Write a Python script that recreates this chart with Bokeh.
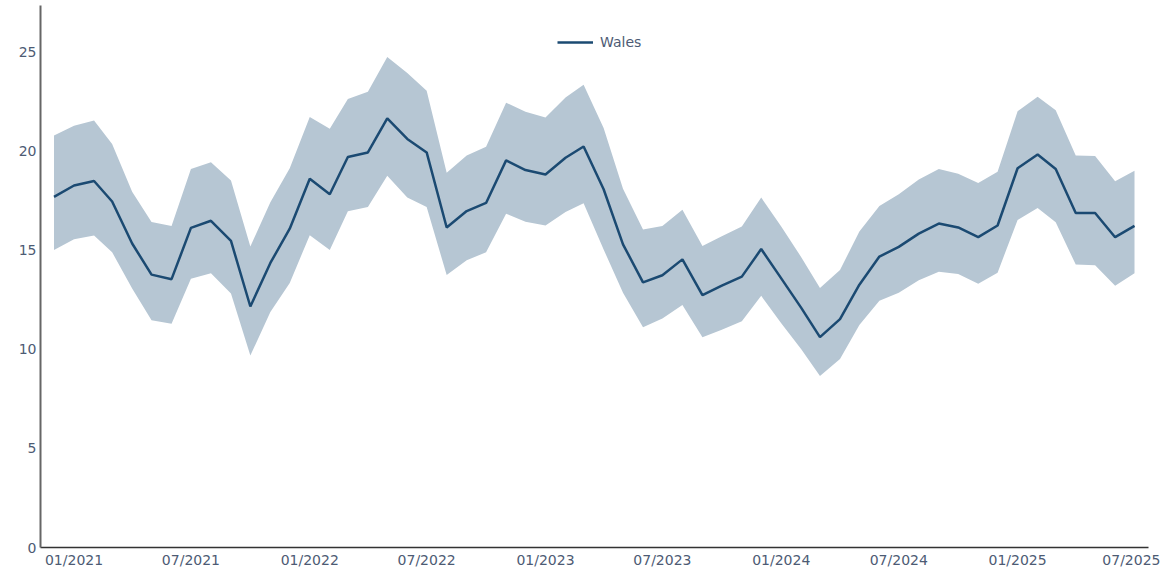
import pandas as pd
from bokeh.plotting import figure
from bokeh.models import (Range1d, DatetimeTickFormatter, MonthsTicker, FixedTicker,
                          Legend, LegendItem, ColumnDataSource)
from bokeh.embed import file_html
from bokeh.resources import INLINE

months = pd.date_range("2020-12-01", "2025-07-01", freq="MS")

wales = [17.71, 18.28, 18.51, 17.47, 15.35, 13.78, 13.55, 16.14, 16.50, 15.48,
         12.17, 14.37, 16.10, 18.62, 17.84, 19.72, 19.95, 21.67, 20.63, 19.95,
         16.16, 16.99, 17.40, 19.55, 19.06, 18.84, 19.68, 20.25, 18.09, 15.31,
         13.39, 13.75, 14.55, 12.74, 13.22, 13.68, 15.07, 13.59, 12.10, 10.62,
         11.53, 13.27, 14.69, 15.18, 15.85, 16.36, 16.16, 15.67, 16.26, 19.15,
         19.85, 19.11, 16.89, 16.89, 15.67, 16.24]
upper = [20.81, 21.30, 21.56, 20.37, 17.96, 16.44, 16.23, 19.11, 19.45, 18.53,
         15.20, 17.43, 19.15, 21.74, 21.15, 22.65, 23.01, 24.77, 23.96, 23.06,
         18.93, 19.80, 20.24, 22.46, 22.00, 21.71, 22.73, 23.37, 21.18, 18.12,
         16.06, 16.24, 17.06, 15.23, 15.72, 16.21, 17.67, 16.21, 14.66, 13.11,
         14.01, 15.96, 17.24, 17.84, 18.58, 19.11, 18.87, 18.41, 18.98, 22.03,
         22.76, 22.08, 19.80, 19.77, 18.49, 19.02]
lower = [15.02, 15.56, 15.75, 14.91, 13.08, 11.48, 11.30, 13.57, 13.85, 12.83,
         9.69, 11.89, 13.36, 15.77, 15.02, 16.98, 17.19, 18.77, 17.68, 17.19,
         13.76, 14.50, 14.91, 16.86, 16.45, 16.26, 16.94, 17.38, 15.05, 12.87,
         11.12, 11.56, 12.25, 10.62, 10.99, 11.43, 12.71, 11.32, 10.01, 8.66,
         9.52, 11.24, 12.46, 12.87, 13.49, 13.93, 13.81, 13.32, 13.88, 16.54,
         17.14, 16.42, 14.29, 14.25, 13.22, 13.85]

y_ticks = [0, 5, 10, 15, 20, 25]

src = ColumnDataSource(dict(x=months, y=wales, lo=lower, hi=upper))

FONT = "DejaVu Sans"
TXT = "#4d5b74"
LINE = "#1b4a72"
BAND = "#b6c6d3"

p = figure(width=1160, height=570, x_axis_type="datetime",
           output_backend="svg", toolbar_location=None,
           x_range=Range1d(pd.Timestamp("2020-11-10 02:00"), pd.Timestamp("2025-07-22 16:00")),
           y_range=Range1d(0, 27.37),
           min_border_left=40, min_border_right=12, min_border_top=5,
           min_border_bottom=23)
p.outline_line_color = None
p.xgrid.grid_line_color = None
p.ygrid.grid_line_color = None

band = p.varea(x="x", y1="lo", y2="hi", source=src, fill_color=BAND, fill_alpha=1.0)
ln = p.line(x="x", y="y", source=src, line_color=LINE, line_width=2.5)

p.xaxis.ticker = MonthsTicker(months=[0, 6])
p.xaxis.formatter = DatetimeTickFormatter(months="%m/%Y", days="%m/%Y", years="%m/%Y")
p.yaxis.ticker = FixedTicker(ticks=y_ticks)

for ax in (p.xaxis[0], p.yaxis[0]):
    ax.major_tick_line_color = None
    ax.minor_tick_line_color = None
    ax.major_tick_out = 0
    ax.major_tick_in = 0
    ax.minor_tick_out = 0
    ax.minor_tick_in = 0
    ax.major_label_text_font = FONT
    ax.major_label_text_font_size = "14px"
    ax.major_label_text_color = TXT
    ax.major_label_standoff = 4
p.yaxis.axis_line_color = "#666666"
p.yaxis.axis_line_width = 2
p.xaxis.axis_line_color = "#333333"
p.xaxis.axis_line_width = 1.5

legend = Legend(items=[LegendItem(label="Wales", renderers=[ln])],
                location=(517, 497), orientation="horizontal",
                padding=0, margin=0, spacing=0, label_standoff=7,
                glyph_width=36, glyph_height=16,
                border_line_alpha=0, background_fill_alpha=0,
                label_text_font=FONT, label_text_font_size="14px",
                label_text_color=TXT)
p.add_layout(legend, "center")

open("out.html", "w").write(file_html(p, INLINE))
